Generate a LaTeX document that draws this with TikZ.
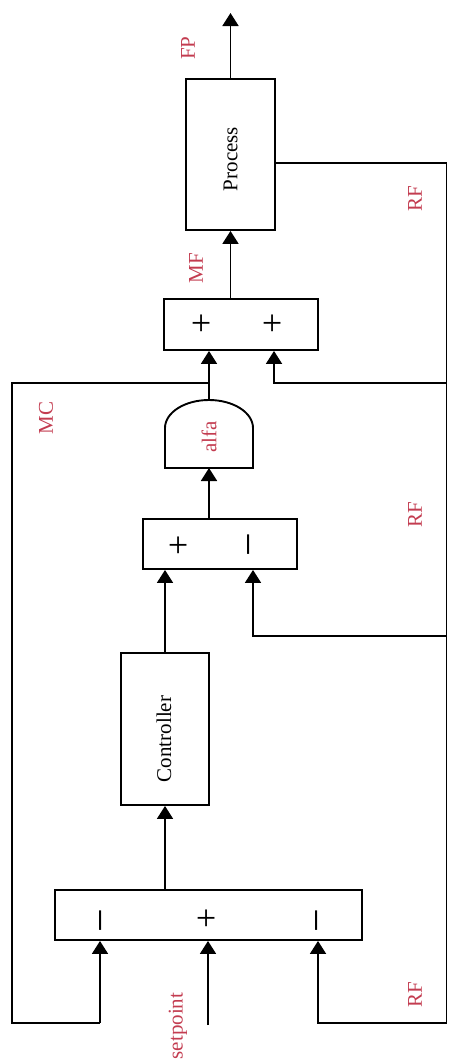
\documentclass[tikz,border=0pt]{standalone}
\usepackage{fontspec}
\setmainfont{Liberation Serif}
\usetikzlibrary{arrows.meta}
\definecolor{lblred}{RGB}{195,60,80}
\begin{document}
\begin{tikzpicture}[x=1pt,y=-1pt,
  line width=1.9pt,
  blk/.style={draw,rectangle,inner sep=0pt,anchor=center},
  arr/.style={-{Triangle[length=13pt,width=16pt]}},
  lbl/.style={text=lblred,rotate=90,font=\fontsize{21}{21}\selectfont,inner sep=0pt},
  btxt/.style={rotate=90,font=\fontsize{21}{21}\selectfont,inner sep=0pt},
  sgn/.style={rotate=90,font=\fontsize{36}{36}\selectfont,inner sep=0pt},
  msgn/.style={rotate=90,font=\fontsize{42}{42}\selectfont,inner sep=0pt}]
\useasboundingbox (0,0) rectangle (448,1060);
% blocks
\node[blk,minimum width=89pt,minimum height=151pt] (proc) at (230.5,154.5) {};
\node[btxt] (proctxt) at (230.5,159) {Process};
\node[blk,minimum width=154pt,minimum height=51pt] (sumMF) at (241,324.5) {};
\node[blk,minimum width=154pt,minimum height=50pt] (sum2) at (220,544) {};
\node[blk,minimum width=88pt,minimum height=152pt] (ctrl) at (165,729) {};
\node[btxt] (ctrltxt) at (164,739) {Controller};
\node[blk,minimum width=307pt,minimum height=50pt] (sum1) at (208.5,915) {};
% alfa gate
\draw (165,468) -- (165,428) .. controls (165,412.5) and (184.7,400) .. (209,400)
      .. controls (233.3,400) and (253,412.5) .. (253,428) -- (253,468) -- cycle;
\coordinate (alfaTop) at (209,400);
\coordinate (alfaBot) at (209,468);
\node[lbl] (alfa) at (209,437) {alfa};
% signs
\node[sgn] (s1) at (203,323) {+};
\node[sgn] (s2) at (274,323) {+};
\node[sgn] (s3) at (180,545) {+};
\node[msgn] (s4) at (255,545) {−};
\node[msgn] (s5) at (107,921) {−};
\node[sgn] (s6) at (208,918) {+};
\node[msgn] (s7) at (323,921) {−};
% coordinates
\coordinate (top) at (230.5,13);
\coordinate (rA) at (446.5,163);
\coordinate (rB) at (446.5,1023);
\coordinate (rC) at (318,1023);
\coordinate (rD) at (446.5,383);
\coordinate (rE) at (274,383);
\coordinate (rF) at (446.5,636);
\coordinate (rG) at (253,636);
\coordinate (mA) at (209,383);
\coordinate (lA) at (12,383);
\coordinate (lB) at (12,1023);
\coordinate (lC) at (100,1023);
\coordinate (sp) at (208,1025);
% connectors
\draw[arr] (proc.north) -- (top);
\draw[arr] (sumMF.north -| proc) -- (proc.south);
\draw[arr] (proc.east |- rA) -- (rA) -- (rB) -- (rC) -- (sum1.south -| rC);
\draw[arr] (rD) -- (rE) -- (sumMF.south -| rE);
\draw[arr] (rF) -- (rG) -- (sum2.south -| rG);
\draw[arr] (alfaTop) -- (sumMF.south -| alfaTop);
\draw (mA) -- (lA) -- (lB) -- (lC);
\draw[arr] (lC) -- (sum1.south -| lC);
\draw[arr] (sp) -- (sum1.south -| sp);
\draw[arr] (sum1.north -| ctrl) -- (ctrl.south);
\draw[arr] (ctrl.north) -- (sum2.south -| ctrl);
\draw[arr] (sum2.north -| alfaBot) -- (alfaBot);
% labels
\node[lbl] (FP) at (188,48) {FP};
\node[lbl] (MF) at (196,268) {MF};
\node[lbl] (MC) at (46,418) {MC};
\node[lbl] (RF1) at (415,199) {RF};
\node[lbl] (RF2) at (415,515) {RF};
\node[lbl] (RF3) at (415,995) {RF};
\node[lbl] (setp) at (178,1026) {setpoint};
\end{tikzpicture}
\end{document}
